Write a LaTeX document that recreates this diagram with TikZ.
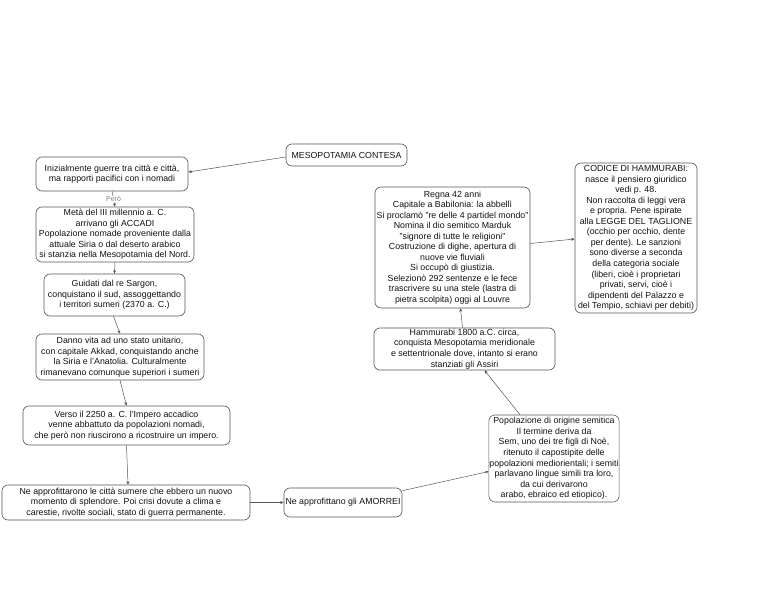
\documentclass[tikz,border=0pt]{standalone}
\usepackage{fontspec}
\setmainfont{Liberation Sans}
\usetikzlibrary{calc,arrows.meta}
\definecolor{edge}{HTML}{555555}
\definecolor{txt}{HTML}{111111}
\begin{document}
\begin{tikzpicture}[x=1pt,y=-1pt,
  box/.style={draw=edge,line width=0.6pt,rounded corners=6pt,align=center,inner sep=0.5pt,
    font=\fontsize{8.8}{10.55}\selectfont,text=txt},
  conn/.style={draw=edge,line width=0.5pt,-{Stealth[length=3.5pt,width=3pt]}}]
\useasboundingbox (0,0) rectangle (768,593);
\node[box,minimum width=121pt,minimum height=22pt] (meso) at (346.5,155) {MESOPOTAMIA CONTESA};
\node[box,minimum width=152pt,minimum height=34pt] (iniz) at (112,174) {Inizialmente guerre tra città e città,\\ma rapporti pacifici con i nomadi};
\node[box,minimum width=158pt,minimum height=55pt] (meta) at (115,234.5) {Metà del III millennio a. C.\\arrivano gli ACCADI\\Popolazione nomade proveniente dalla\\attuale Siria o dal deserto arabico\\si stanzia nella Mesopotamia del Nord.};
\node[box,minimum width=141pt,minimum height=42pt] (guid) at (114.5,295) {Guidati dal re Sargon,\\conquistano il sud, assoggettando\\i territori sumeri (2370 a. C.)};
\node[box,minimum width=168pt,minimum height=46pt] (danno) at (120,357) {Danno vita ad uno stato unitario,\\con capitale Akkad, conquistando anche\\la Siria e l'Anatolia. Culturalmente\\rimanevano comunque superiori i sumeri};
\node[box,minimum width=207pt,minimum height=39pt] (verso) at (126.5,425.5) {Verso il 2250 a. C. l'Impero accadico\\venne abbattuto da popolazioni nomadi,\\che però non riuscirono a ricostruire un impero.};
\node[box,minimum width=248pt,minimum height=35pt] (nea) at (126,502.5) {Ne approfittarono le città sumere che ebbero un nuovo\\momento di splendore. Poi crisi dovute a clima e\\carestie, rivolte sociali, stato di guerra permanente.};
\node[box,minimum width=118pt,minimum height=29pt,inner sep=0pt] (amorrei) at (343,502.5) {Ne approfittano gli AMORREI};
\node[box,minimum width=128pt,minimum height=87pt] (pop) at (554,458.5) {Popolazione di origine semitica\\Il termine deriva da\\Sem, uno dei tre figli di Noè,\\ritenuto il capostipite delle\\popolazioni mediorientali; i semiti\\parlavano lingue simili tra loro,\\da cui derivarono\\arabo, ebraico ed etiopico).};
\node[box,minimum width=181pt,minimum height=42pt] (hamm) at (464.5,349) {Hammurabi 1800 a.C. circa,\\conquista Mesopotamia meridionale\\e settentrionale dove, intanto si erano\\stanziati gli Assiri};
\node[box,minimum width=155pt,minimum height=121pt] (regna) at (452.5,247.5) {Regna 42 anni\\Capitale a Babilonia: la abbellì\\Si proclamò "re delle 4 partidel mondo"\\Nomina il dio semitico Marduk\\"signore di tutte le religioni"\\Costruzione di dighe, apertura di\\nuove vie fluviali\\Si occupò di giustizia.\\Selezionò 292 sentenze e le fece\\trascrivere su una stele (lastra di\\pietra scolpita) oggi al Louvre};
\node[box,minimum width=122pt,minimum height=150pt] (codice) at (636,238) {CODICE DI HAMMURABI:\\nasce il pensiero giuridico\\vedi p. 48.\\Non raccolta di leggi vera\\e propria. Pene ispirate\\alla LEGGE DEL TAGLIONE\\(occhio per occhio, dente\\per dente). Le sanzioni\\sono diverse a seconda\\della categoria sociale\\(liberi, cioè i proprietari\\privati, servi, cioè i\\dipendenti del Palazzo e\\del Tempio, schiavi per debiti)};
\draw[conn] ($(meso.west)+(0,2)$) -- ($(iniz.east)+(0,-2)$);
\draw[conn] (iniz.south) -- node[fill=white,inner sep=0.5pt,font=\fontsize{7}{8}\selectfont,text=gray] (pero) {Però} (meta.north);
\draw[conn] (meta.south) -- (guid.north);
\draw[conn] ($(guid.south)+(-1,0)$) -- (danno.north);
\draw[conn] (danno.south) -- (verso.north);
\draw[conn] (verso.south) -- ($(nea.north)+(2,0)$);
\draw[conn] (nea.east) -- (amorrei.west);
\draw[conn] ($(amorrei.north east)+(0,3)$) -- ($(pop.west)+(0,13)$);
\draw[conn] ($(pop.north)+(-34,0)$) -- ($(hamm.south)+(20,0)$);
\draw[conn] ($(hamm.north)+(-2,0)$) -- ($(regna.south)+(8,0)$);
\draw[conn] ($(regna.east)+(0,-4)$) -- ($(codice.west)+(0,1)$);
\end{tikzpicture}
\end{document}
